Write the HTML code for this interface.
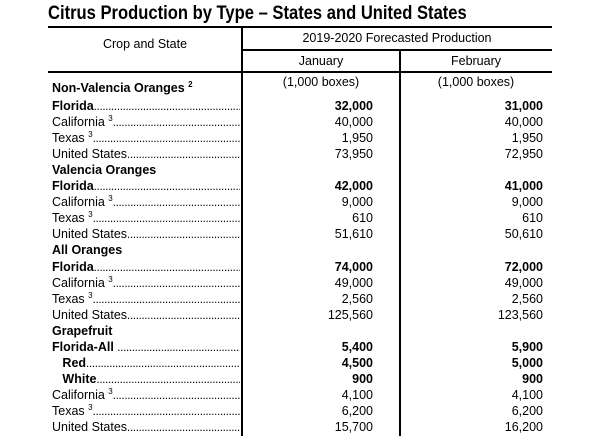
<!DOCTYPE html>
<html><head><meta charset="utf-8"><style>
body{margin:0;width:600px;height:440px;background:#fff;position:relative;overflow:hidden;font-family:"Liberation Sans",Arial,sans-serif;color:#000}
.a{position:absolute;white-space:nowrap}
.t{left:48px;top:2px;font-size:19.5px;font-weight:bold;transform:scaleX(0.85);transform-origin:left top}
.ln{position:absolute;background:#000}
.h{font-size:12.5px;text-align:center;line-height:14px}
.r{position:absolute;left:52px;width:188px;height:16px;line-height:16px;font-size:12.5px;overflow:hidden;white-space:nowrap}
.dt{font-size:11.5px;letter-spacing:-0.3px;font-weight:normal}
.n{position:absolute;height:16px;line-height:16px;font-size:12.5px;text-align:right;width:100px}
.b{font-weight:bold}
sup{font-size:8px;vertical-align:5px;line-height:0}
</style></head><body>
<div class="a t">Citrus Production by Type – States and United States</div>
<div class="ln" style="left:48px;top:26px;width:504px;height:2px"></div>
<div class="ln" style="left:241px;top:27px;width:2px;height:409px"></div>
<div class="ln" style="left:242px;top:49px;width:310px;height:1.5px"></div>
<div class="ln" style="left:399px;top:49px;width:2px;height:387px"></div>
<div class="ln" style="left:48px;top:71px;width:504px;height:1.5px"></div>
<div class="a h" style="left:48px;width:194px;top:37px">Crop and State</div>
<div class="a h" style="left:242px;width:310px;top:31px">2019-2020 Forecasted Production</div>
<div class="a h" style="left:242px;width:158px;top:54px">January</div>
<div class="a h" style="left:400px;width:152px;top:54px">February</div>
<div class="a h" style="left:242px;width:158px;top:75px">(1,000 boxes)</div>
<div class="a h" style="left:400px;width:152px;top:75px">(1,000 boxes)</div>
<div id="rows"></div>
<script>
var rows=[
["Non-Valencia Oranges <sup>2</sup>",1,0,"",""],
["Florida",1,1,"32,000","31,000"],
["California <sup>3</sup>",0,1,"40,000","40,000"],
["Texas <sup>3</sup>",0,1,"1,950","1,950"],
["United States",0,1,"73,950","72,950"],
["Valencia Oranges",1,0,"",""],
["Florida",1,1,"42,000","41,000"],
["California <sup>3</sup>",0,1,"9,000","9,000"],
["Texas <sup>3</sup>",0,1,"610","610"],
["United States",0,1,"51,610","50,610"],
["All Oranges",1,0,"",""],
["Florida",1,1,"74,000","72,000"],
["California <sup>3</sup>",0,1,"49,000","49,000"],
["Texas <sup>3</sup>",0,1,"2,560","2,560"],
["United States",0,1,"125,560","123,560"],
["Grapefruit",1,0,"",""],
["Florida-All ",1,1,"5,400","5,900"],
["&nbsp;&nbsp;&nbsp;Red",1,1,"4,500","5,000"],
["&nbsp;&nbsp;&nbsp;White",1,1,"900","900"],
["California <sup>3</sup>",0,1,"4,100","4,100"],
["Texas <sup>3</sup>",0,1,"6,200","6,200"],
["United States",0,1,"15,700","16,200"]];
var h="",d=".".repeat(150);
rows.forEach(function(r,i){
 var c=i==0?88:106+16.05*(i-1), top=c-8;
 var cls=r[1]?" b":"";
 h+='<div class="r" style="top:'+top+'px"><span class="'+(r[1]?'b':'')+'">'+r[0]+'</span>'+(r[2]?'<span class="dt">'+d+'</span>':'')+'</div>';
 if(r[3]){h+='<div class="n'+cls+'" style="left:273px;top:'+top+'px">'+r[3]+'</div>';
 h+='<div class="n'+cls+'" style="left:443px;top:'+top+'px">'+r[4]+'</div>';}
});
document.getElementById("rows").innerHTML=h;
</script>
</body></html>
